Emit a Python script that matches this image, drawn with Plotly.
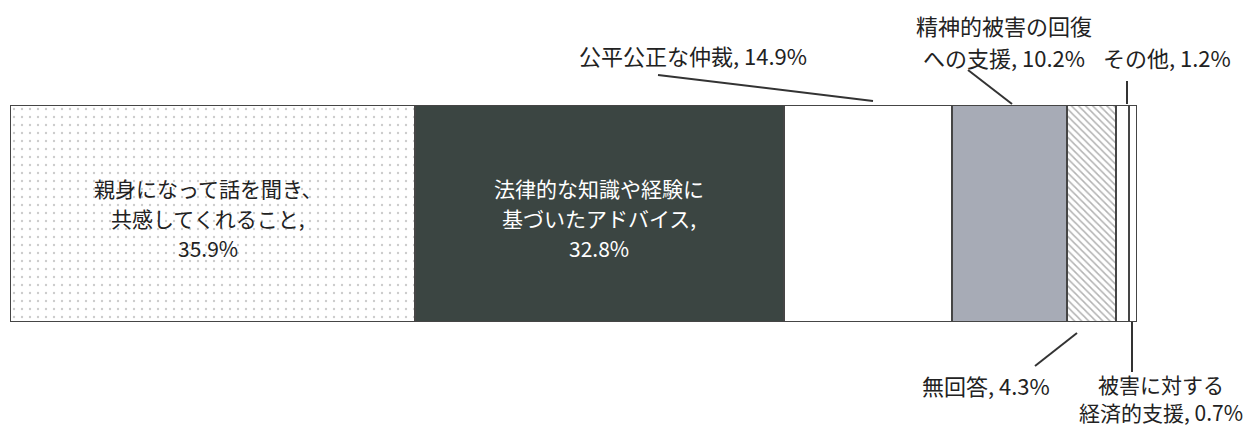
import plotly.graph_objects as go

# ---- data ----
categories = ["親身になって話を聞き、共感してくれること", "法律的な知識や経験に基づいたアドバイス",
              "公平公正な仲裁", "精神的被害の回復への支援", "無回答", "その他", "被害に対する経済的支援"]
values = [35.9, 32.8, 14.9, 10.2, 4.3, 1.2, 0.7]
label_lines = [
    ["親身になって話を聞き、", "共感してくれること,", "35.9%"],
    ["法律的な知識や経験に", "基づいたアドバイス,", "32.8%"],
    ["公平公正な仲裁, 14.9%"],
    ["精神的被害の回復", "への支援, 10.2%"],
    ["無回答, 4.3%"],
    ["その他, 1.2%"],
    ["被害に対する", "経済的支援, 0.7%"],
]

# ---- layout / styles (page has an 8px body margin) ----
OFF = 8
W, H = 1254 - OFF, 427 - OFF
BAR_L, BAR_R, BAR_T, BAR_B = 10, 1137, 105, 322   # positions in the page
ML, MT = BAR_L - OFF, BAR_T - OFF
PW = BAR_R - BAR_L
PH = BAR_B - BAR_T
MR = W - ML - PW
MB = H - MT - PH
FONT = "Noto Sans CJK JP"
fills = ["#ffffff", "#3b4542", "#ffffff", "#a7abb6", "#ffffff", "#ffffff", "#ffffff"]
patterns = [
    dict(shape=".", fgcolor="#9a9a9a", size=8, solidity=0.07),
    None, None, None,
    dict(shape="\\", fgcolor="#666666", size=5, solidity=0.3),
    None, None,
]
edge = "#454545"


def px2dx(px):
    return px * 100.0 / PW


def y2paper(y):          # page y pixel -> paper coordinate
    return (BAR_B - y) / PH


def x2paper(x):          # page x pixel -> paper coordinate
    return (x - BAR_L) / PW


cum = [0]
for v in values:
    cum.append(cum[-1] + v)
mids = [(cum[i] + cum[i + 1]) / 2 for i in range(len(values))]
seg_px = [BAR_L + m * PW / 100 for m in mids]

fig = go.Figure()
for i, (c, v) in enumerate(zip(categories, values)):
    m = dict(color=fills[i], line=dict(color=edge, width=2.5))
    if patterns[i]:
        m["pattern"] = patterns[i]
    fig.add_trace(go.Bar(x=[v], y=[""], orientation="h", name=c, marker=m,
                         hoverinfo="name+x", showlegend=False))

annotations = []


def add_label(i, cx_off, cy, lines, spacing, color="#222222", size=22):
    n = len(lines)
    cx = seg_px[i] + cx_off
    for k, t in enumerate(lines):
        y = cy + (k - (n - 1) / 2) * spacing
        annotations.append(dict(x=x2paper(cx), xref="paper", y=y2paper(y), yref="paper",
                                text=t, showarrow=False, xanchor="center", yanchor="middle",
                                font=dict(family=FONT, size=size, color=color)))


# inside labels
add_label(0, -4, 218, label_lines[0], 30, color="#222222", size=21)
add_label(1, 0, 218, label_lines[1], 30, color="#ffffff", size=21)
# outside labels (offsets relative to segment centre in px)
add_label(2, 693 - seg_px[2], 55, label_lines[2], 32)
add_label(3, 1004 - seg_px[3], 41, label_lines[3], 32)
add_label(5, 1167 - seg_px[5], 57, label_lines[5], 32)
add_label(4, 986 - seg_px[4], 385, label_lines[4], 27)
add_label(6, 1161 - seg_px[6], 398, label_lines[6], 28, size=21)

# leader lines: (segment, start dx px, start y px, end dx px, end y px)
leaders = [
    (2, 873 - seg_px[2], 101, 658 - seg_px[2], 75),
    (3, 1012 - seg_px[3], 104, 968 - seg_px[3], 70),
    (5, 1127 - seg_px[5], 104, 1127 - seg_px[5], 81),
    (4, 1077 - seg_px[4], 333, 1035 - seg_px[4], 366),
    (6, 1132 - seg_px[6], 322, 1132 - seg_px[6], 372),
]
shapes = []
for i, dx0, y0, dx1, y1 in leaders:
    shapes.append(dict(type="line", xref="x", yref="paper",
                       x0=mids[i] + px2dx(dx0), y0=y2paper(y0),
                       x1=mids[i] + px2dx(dx1), y1=y2paper(y1),
                       line=dict(color="#333333", width=2)))

fig.update_layout(
    width=W, height=H,
    margin=dict(l=ML, r=MR, t=MT, b=MB, pad=0),
    barmode="stack", bargap=0,
    paper_bgcolor="#ffffff", plot_bgcolor="#ffffff",
    xaxis=dict(range=[0, 100], visible=False, fixedrange=True),
    yaxis=dict(range=[-0.5, 0.5], visible=False, fixedrange=True),
    annotations=annotations, shapes=shapes,
    font=dict(family=FONT),
)

fig.write_html("out.html")
